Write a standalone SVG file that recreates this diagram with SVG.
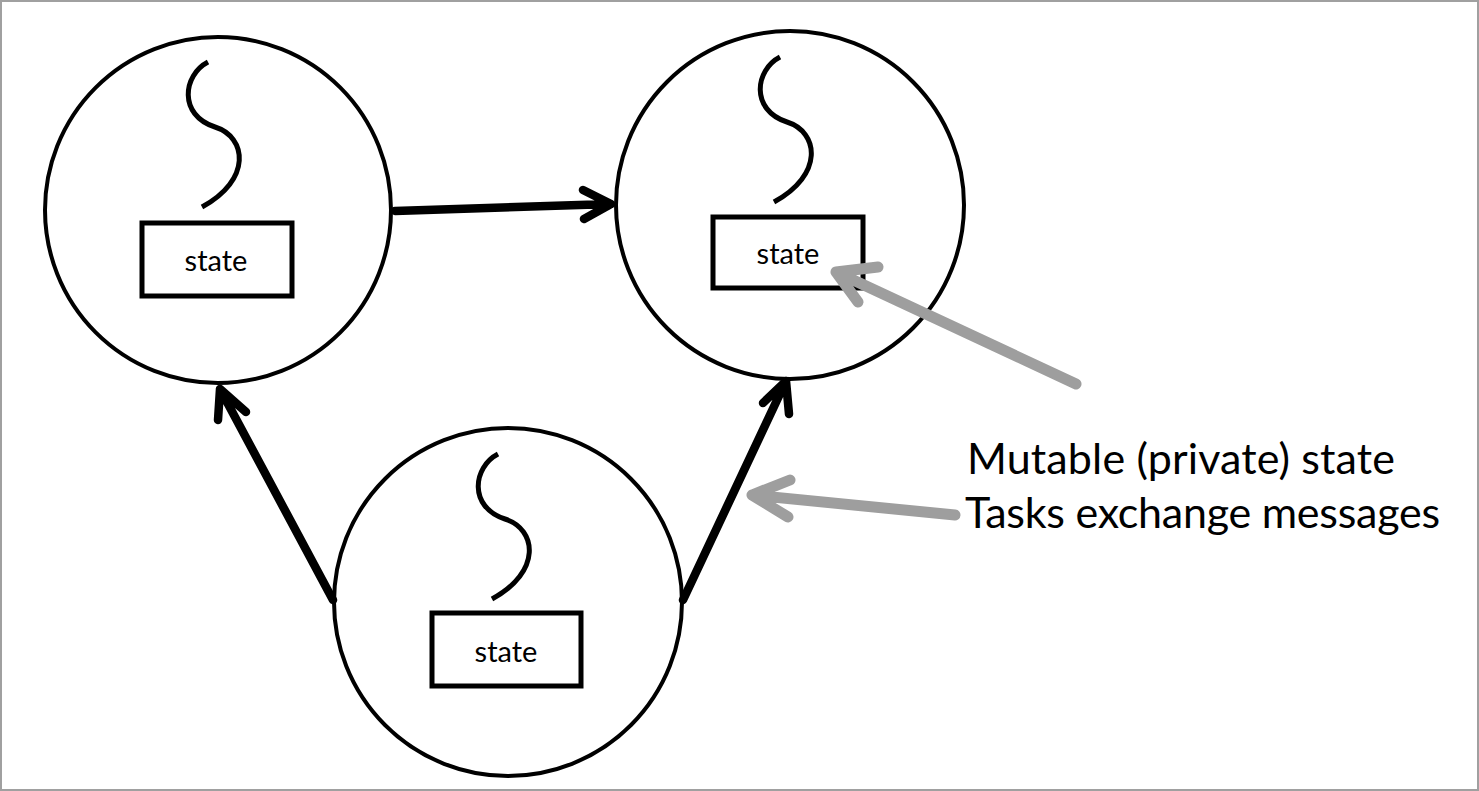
<svg xmlns="http://www.w3.org/2000/svg" xmlns:xlink="http://www.w3.org/1999/xlink" width="1479" height="791" viewBox="0 0 1479 791">
<style>
.node circle{fill:#fff;stroke:#000;stroke-width:4}
.node rect{fill:#fff;stroke:#000;stroke-width:5}
.sq{fill:none;stroke:#000;stroke-width:5}
.lbl{font-family:Lato,"Open Sans","Liberation Sans",sans-serif;font-size:29px;fill:#000;text-anchor:middle}
.blk{fill:none;stroke:#000;stroke-width:8.5;stroke-linecap:round;stroke-linejoin:round}
.gry{fill:none;stroke:#9e9e9e;stroke-width:11;stroke-linecap:round;stroke-linejoin:round}
.note{font-family:Lato,"Open Sans","Liberation Sans",sans-serif;font-size:43px;fill:#000}
</style>
<defs>
<path id="squig" class="sq" d="M-10,-148 C-35,-135 -40,-95 -3,-83 C29,-73 34,-30 -16,-3"/>
</defs>
<rect x="1" y="1" width="1477" height="789" fill="#fff" stroke="#a0a0a0" stroke-width="2"/>
<g id="node-top-left" class="node" transform="translate(218,210)">
<circle r="173"/>
<use xlink:href="#squig"/>
<rect x="-76" y="13" width="150" height="73"/>
<text class="lbl" x="-2" y="61">state</text>
</g>
<g id="node-top-right" class="node" transform="translate(790,205)">
<circle r="174"/>
<use xlink:href="#squig"/>
<rect x="-77" y="12" width="150" height="71"/>
<text class="lbl" x="-2" y="59">state</text>
</g>
<g id="node-bottom" class="node" transform="translate(508,602)">
<circle r="174"/>
<use xlink:href="#squig"/>
<rect x="-76" y="11" width="149" height="73"/>
<text class="lbl" x="-2" y="60">state</text>
</g>
<g id="connectors">
<path class="blk" d="M395,211 L611,204 M583,190 L611,204 L584,219"/>
<path class="blk" d="M333,600 L220,389 M218,420 L220,389 L246,412"/>
<path class="blk" d="M683,600 L786,381 M763,403 L786,381 L789,414"/>
<path class="gry" d="M1076,384 L836,272 M878,267 L836,272 L858,302"/>
<path class="gry" d="M955,515 L752,495 M790,480 L752,495 L788,517"/>
</g>
<g id="notes">
<text class="note" x="967" y="474" textLength="428">Mutable (private) state</text>
<text class="note" x="965" y="528" textLength="475">Tasks exchange messages</text>
</g>
</svg>
